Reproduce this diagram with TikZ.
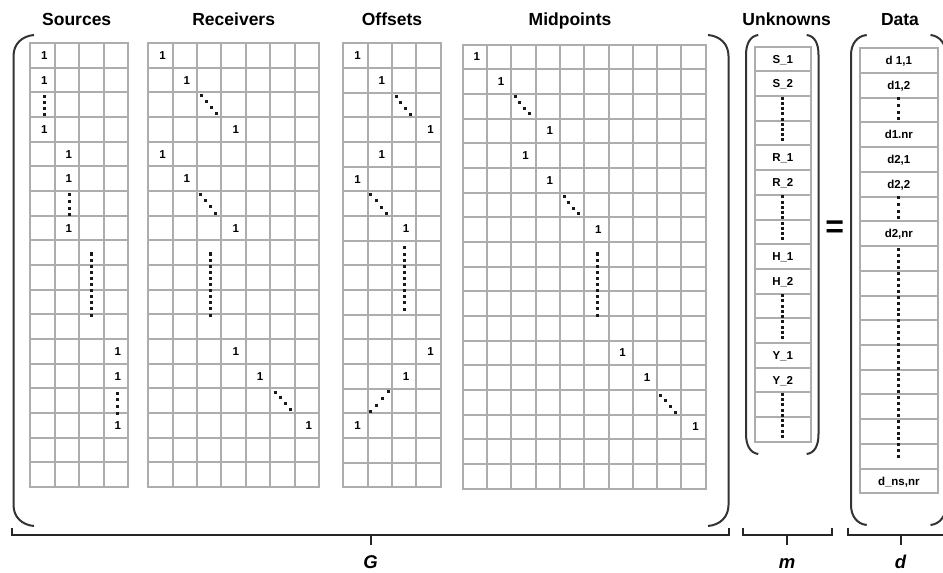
\documentclass[tikz,border=0pt]{standalone}
\usepackage{fontspec}
\setmainfont{Liberation Sans}
\usetikzlibrary{calc}

% grid of cells: x0, y0, cell width, row height, columns, rows (lines snapped to whole units)
\newcommand\mtxgrid[6]{%
  \foreach \i in {0,...,#5}{\draw[gridline] ({round(#1+\i*#3)},{round(#2)}) -- ({round(#1+\i*#3)},{round(#2+#6*#4)});}
  \foreach \j in {0,...,#6}{\draw[gridline] ({round(#1)},{round(#2+\j*#4)}) -- ({round(#1+#5*#3)},{round(#2+\j*#4)});}
}
% run of n square dots from (x1,y1) to (x2,y2)
\newcommand\dotrun[5]{%
  \pgfmathtruncatemacro\dotlast{#5-1}%
  \foreach \k in {0,...,\dotlast}{%
    \fill[dotfill] ({#1+(#3-#1)*\k/\dotlast-1.5},{#2+(#4-#2)*\k/\dotlast-1.5}) rectangle ++(3,3);}%
}

\tikzset{
  gridline/.style={draw=gray!64, line width=2bp, line cap=rect},
  dotfill/.style={fill=black!90},
  cellnum/.style={font=\bfseries\fontsize{11.5bp}{12bp}\selectfont, inner sep=0pt,
    text height=8.2bp, text depth=0pt, anchor=center},
  title/.style={font=\bfseries\fontsize{17.5bp}{20bp}\selectfont, inner sep=0pt, anchor=base},
  veclabel/.style={font=\bfseries\itshape\fontsize{18.5bp}{20bp}\selectfont, inner sep=0pt, anchor=base},
  paren/.style={draw=black!80, line width=2bp},
  brace/.style={draw=black!85, line width=2bp},
}

\begin{document}
\begin{tikzpicture}[x=1bp, y=-1bp]
\fill[white] (0,0) rectangle (943,573);
\useasboundingbox (0,0) rectangle (943,573);

% column titles
\node[title] (tsrc) at (76.7,26) {Sources};
\node[title] (trec) at (233.7,26) {Receivers};
\node[title] (toff) at (392,26) {Offsets};
\node[title] (tmid) at (570,26) {Midpoints};
\node[title] (tunk) at (786.7,26) {Unknowns};
\node[title] (tdat) at (900,26) {Data};

% the four blocks of G
\mtxgrid{30}{43}{24.5}{24.67}{4}{18}
\mtxgrid{148.3}{43}{24.4}{24.67}{7}{18}
\mtxgrid{343.3}{43.3}{24.35}{24.67}{4}{18}
\mtxgrid{462.7}{44.5}{24.3}{24.67}{10}{18}
% the vectors m and d
\mtxgrid{755}{46.7}{55.7}{24.69}{1}{16}
\mtxgrid{860}{48.3}{77.7}{24.72}{1}{18}

% ones in G
\foreach \c/\r in {1/1,1/2,1/4,2/5,2/6,2/8,4/13,4/14,4/16}
  {\node[cellnum] (s-\c-\r) at ({30+(\c-0.5)*24.5+2},{43+(\r-0.5)*24.67}) {1};}
\foreach \c/\r in {1/1,2/2,4/4,1/5,2/6,4/8,4/13,5/14,7/16}
  {\node[cellnum] (r-\c-\r) at ({148.3+(\c-0.5)*24.4+2},{43+(\r-0.5)*24.67}) {1};}
\foreach \c/\r in {1/1,2/2,4/4,2/5,1/6,3/8,4/13,3/14,1/16}
  {\node[cellnum] (o-\c-\r) at ({343.3+(\c-0.5)*24.35+2},{43.3+(\r-0.5)*24.67}) {1};}
\foreach \c/\r in {1/1,2/2,4/4,3/5,4/6,6/8,7/13,8/14,10/16}
  {\node[cellnum] (p-\c-\r) at ({462.7+(\c-0.5)*24.3+2},{44.5+(\r-0.5)*24.67}) {1};}

% dots in Sources
\dotrun{44.5}{96.5}{44.5}{115}{4}
\dotrun{69}{195}{69}{215}{4}
\dotrun{91}{254}{91}{315}{11}
\dotrun{117.5}{393}{117.5}{413}{4}
% dots in Receivers
\dotrun{201}{96}{216.7}{113.3}{4}
\dotrun{200}{194.3}{215}{213.3}{4}
\dotrun{210.7}{254}{210.7}{315}{11}
\dotrun{275}{392}{290}{409}{4}
% dots in Offsets
\dotrun{396}{96.7}{410.7}{114.3}{4}
\dotrun{370.7}{194.3}{386.7}{214}{4}
\dotrun{404.3}{248}{404.3}{309}{11}
\dotrun{370}{411.7}{388.3}{391.7}{4}
% dots in Midpoints
\dotrun{515}{97}{529.3}{114}{4}
\dotrun{564.3}{196.7}{578.3}{214}{4}
\dotrun{597}{254}{597}{315}{11}
\dotrun{660}{395}{675}{412}{4}

% entries of m
\foreach \lbl/\r in {S\_1/1,S\_2/2,R\_1/5,R\_2/6,H\_1/9,H\_2/10,Y\_1/13,Y\_2/14}
  {\node[cellnum] (m-\r) at (782.8,{46.7+(\r-0.5)*24.69}) {\lbl};}
\dotrun{782.7}{98.1}{782.7}{140}{9}
\dotrun{782.7}{196.8}{782.7}{238.8}{9}
\dotrun{782.7}{295.6}{782.7}{337.6}{9}
\dotrun{782.7}{394.4}{782.7}{436.4}{9}

% entries of d
\foreach \lbl/\r in {d 1{,}1/1,d1{,}2/2,d1.nr/4,d2{,}1/5,d2{,}2/6,d2{,}nr/8,d\_ns{,}nr/18}
  {\node[cellnum] (d-\r) at (898.8,{48.3+(\r-0.5)*24.72}) {\lbl};}
\dotrun{898.3}{99}{898.3}{119}{4}
\dotrun{898.3}{198}{898.3}{218}{4}
\dotrun{898.3}{250}{898.3}{456.7}{36}

% equals sign
\node[font=\bfseries\fontsize{32bp}{34bp}\selectfont, inner sep=0pt, anchor=base] (eq) at (834.7,237.5) {=};

% parentheses round G
\draw[paren] (34,35) .. controls (22,36) and (13.5,44) .. (13.5,56) -- (13.5,505)
  .. controls (13.5,517) and (22,525) .. (34,526);
\draw[paren] (708,35) .. controls (720,36) and (728.5,44) .. (728.5,56) -- (728.5,505)
  .. controls (728.5,517) and (720,525) .. (708,526);
% parentheses round m
\draw[paren] (758.3,35) .. controls (750,36) and (746,44) .. (746,55) -- (746,434)
  .. controls (746,445) and (750,453) .. (758.3,454);
\draw[paren] (806.7,35) .. controls (815,36) and (818.5,44) .. (818.5,55) -- (818.5,434)
  .. controls (818.5,445) and (815,453) .. (806.7,454);
% parentheses round d
\draw[paren] (866.7,35) .. controls (857,36) and (851,44) .. (851,55) -- (851,505)
  .. controls (851,516) and (857,524) .. (866.7,525);
\draw[paren] (930.5,35) .. controls (940,36) and (946,44) .. (946,55) -- (946,505)
  .. controls (946,516) and (940,524) .. (930.5,525);

% underbraces and their labels
\node[veclabel] (G) at (370.5,568.3) {G};
\node[veclabel] (m) at (787,568.3) {m};
\node[veclabel] (d) at (900.5,568.3) {d};
\coordinate (gb) at (370.5,535);
\coordinate (mb) at (787,535);
\coordinate (db) at (900.5,535);
\draw[brace] (11.7,527.7) -- (11.7,535) -- (729.3,535) -- (729.3,527.7);
\draw[brace] (gb) -- ++(0,10);
\draw[brace] (742.7,527.7) -- (742.7,535) -- (831.7,535) -- (831.7,527.7);
\draw[brace] (mb) -- ++(0,10);
\draw[brace] (848,527.7) -- (848,535) -- (953,535) -- (953,527.7);
\draw[brace] (db) -- ++(0,10);
\end{tikzpicture}
\end{document}
